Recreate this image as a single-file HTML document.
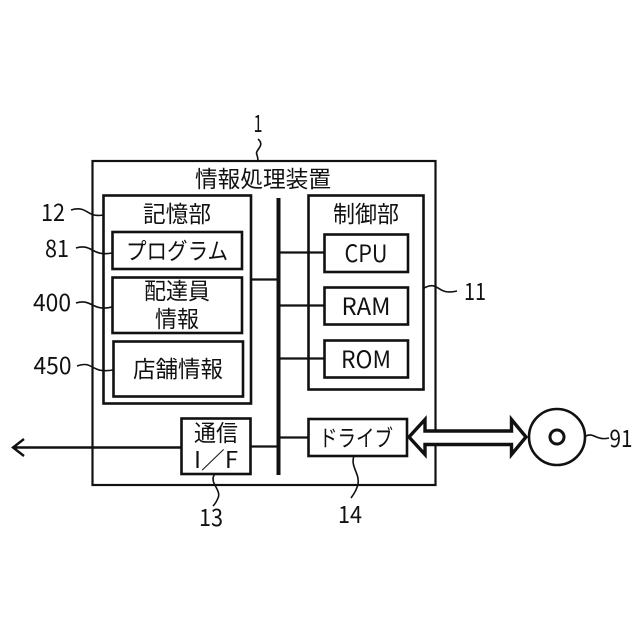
<!DOCTYPE html>
<html><head><meta charset="utf-8"><style>
html,body{margin:0;padding:0;background:#fff}
svg{display:block}
text{font-family:"Noto Sans CJK JP","Liberation Sans",sans-serif;fill:#111;text-anchor:middle;font-weight:400}
.n{font-size:24px}
.j{font-size:23px}
</style></head><body>
<svg width="640" height="640" viewBox="0 0 640 640" xmlns="http://www.w3.org/2000/svg">
<g fill="none" stroke="#111" stroke-width="2.2">
<rect x="92.5" y="161" width="343" height="324"/>
<rect x="103.5" y="195.5" width="147.5" height="208" stroke-width="2.6"/>
<rect x="112.5" y="232" width="129.5" height="37" stroke-width="2.6"/>
<rect x="112.5" y="277.5" width="129.5" height="55.5" stroke-width="2.6"/>
<rect x="113.5" y="341.5" width="129.5" height="55" stroke-width="2.6"/>
<rect x="308.5" y="195.5" width="115" height="194" stroke-width="2.6"/>
<rect x="324.5" y="234.5" width="83.5" height="37.5" stroke-width="2.6"/>
<rect x="324.5" y="287.5" width="83.5" height="37" stroke-width="2.6"/>
<rect x="324.5" y="340.5" width="83.5" height="37" stroke-width="2.6"/>
<rect x="308.5" y="419" width="98.5" height="37" stroke-width="2.6"/>
<rect x="181.5" y="418.5" width="69" height="55.5" stroke-width="2.6"/>
<path d="M251 279.5H278M280 252.5H324M280 305.5H324M280 358.5H324M280 437.5H308M251 446.5H278" />
<path d="M181 447.5H14M24 439L13 447.5L24 456" stroke-width="2.4"/>
<path d="M278.5 198V475" stroke-width="4"/>
<circle cx="557" cy="437" r="28" stroke-width="2.6"/>
<circle cx="557" cy="437" r="7" stroke-width="3"/>
<path d="M425 419.5L409 437L425 454.5V444.5H511.5V454.5L526 437L511.5 419.5V431H425Z" fill="#fff" stroke-width="3.4" stroke-linejoin="miter"/>
<g stroke-width="1.6">
<path d="M71 210C88 205 86 218 103 215"/>
<path d="M258 139C266 146 254 150 257 155C258 158 258 159 258 161"/>
<path d="M76 248C92 243 92 257 112 253"/>
<path d="M76 303C92 298 92 312 112 307"/>
<path d="M77 366C94 360 90 374 113 370"/>
<path d="M424 288C440 280 436 296 457 291"/>
<path d="M215 474C208 482 222 490 218 498C216 503 214 505 213 506"/>
<path d="M354 456C350 466 360 474 358 484C357 489 354 494 351 498"/>
<path d="M586 436C594 432 596 441 609 438"/>
</g>
</g>
<g>
<text x="258" y="132" class="n" textLength="9" lengthAdjust="spacingAndGlyphs">1</text>
<text x="53" y="221" class="n" textLength="24" lengthAdjust="spacingAndGlyphs">12</text>
<text x="57" y="257" class="n" textLength="24" lengthAdjust="spacingAndGlyphs">81</text>
<text x="52" y="311" class="n" textLength="38" lengthAdjust="spacingAndGlyphs">400</text>
<text x="52.5" y="374" class="n" textLength="38" lengthAdjust="spacingAndGlyphs">450</text>
<text x="475" y="300" class="n" textLength="22" lengthAdjust="spacingAndGlyphs">11</text>
<text x="211" y="526" class="n" textLength="24" lengthAdjust="spacingAndGlyphs">13</text>
<text x="350" y="523" class="n" textLength="24" lengthAdjust="spacingAndGlyphs">14</text>
<text x="621" y="447" class="n" textLength="23" lengthAdjust="spacingAndGlyphs">91</text>
<text x="366" y="262" class="n" textLength="43" lengthAdjust="spacingAndGlyphs">CPU</text>
<text x="366" y="315" class="n" textLength="49" lengthAdjust="spacingAndGlyphs">RAM</text>
<text x="366" y="368" class="n" textLength="50" lengthAdjust="spacingAndGlyphs">ROM</text>
</g>
<g class="j">
<text x="263" y="187" textLength="136" lengthAdjust="spacingAndGlyphs">情報処理装置</text>
<text x="177" y="222" textLength="68" lengthAdjust="spacingAndGlyphs">記憶部</text>
<text x="177" y="259" textLength="102" lengthAdjust="spacingAndGlyphs">プログラム</text>
<text x="177" y="299" textLength="66" lengthAdjust="spacingAndGlyphs">配達員</text>
<text x="177" y="327" textLength="44" lengthAdjust="spacingAndGlyphs">情報</text>
<text x="178" y="377" textLength="90" lengthAdjust="spacingAndGlyphs">店舗情報</text>
<text x="366" y="222" textLength="66" lengthAdjust="spacingAndGlyphs">制御部</text>
<text x="356" y="446" textLength="74" lengthAdjust="spacingAndGlyphs">ドライブ</text>
<text x="216" y="441" textLength="44" lengthAdjust="spacingAndGlyphs">通信</text>
<text x="216" y="468" textLength="44" lengthAdjust="spacingAndGlyphs">I／F</text>
</g>
</svg>
</body></html>
